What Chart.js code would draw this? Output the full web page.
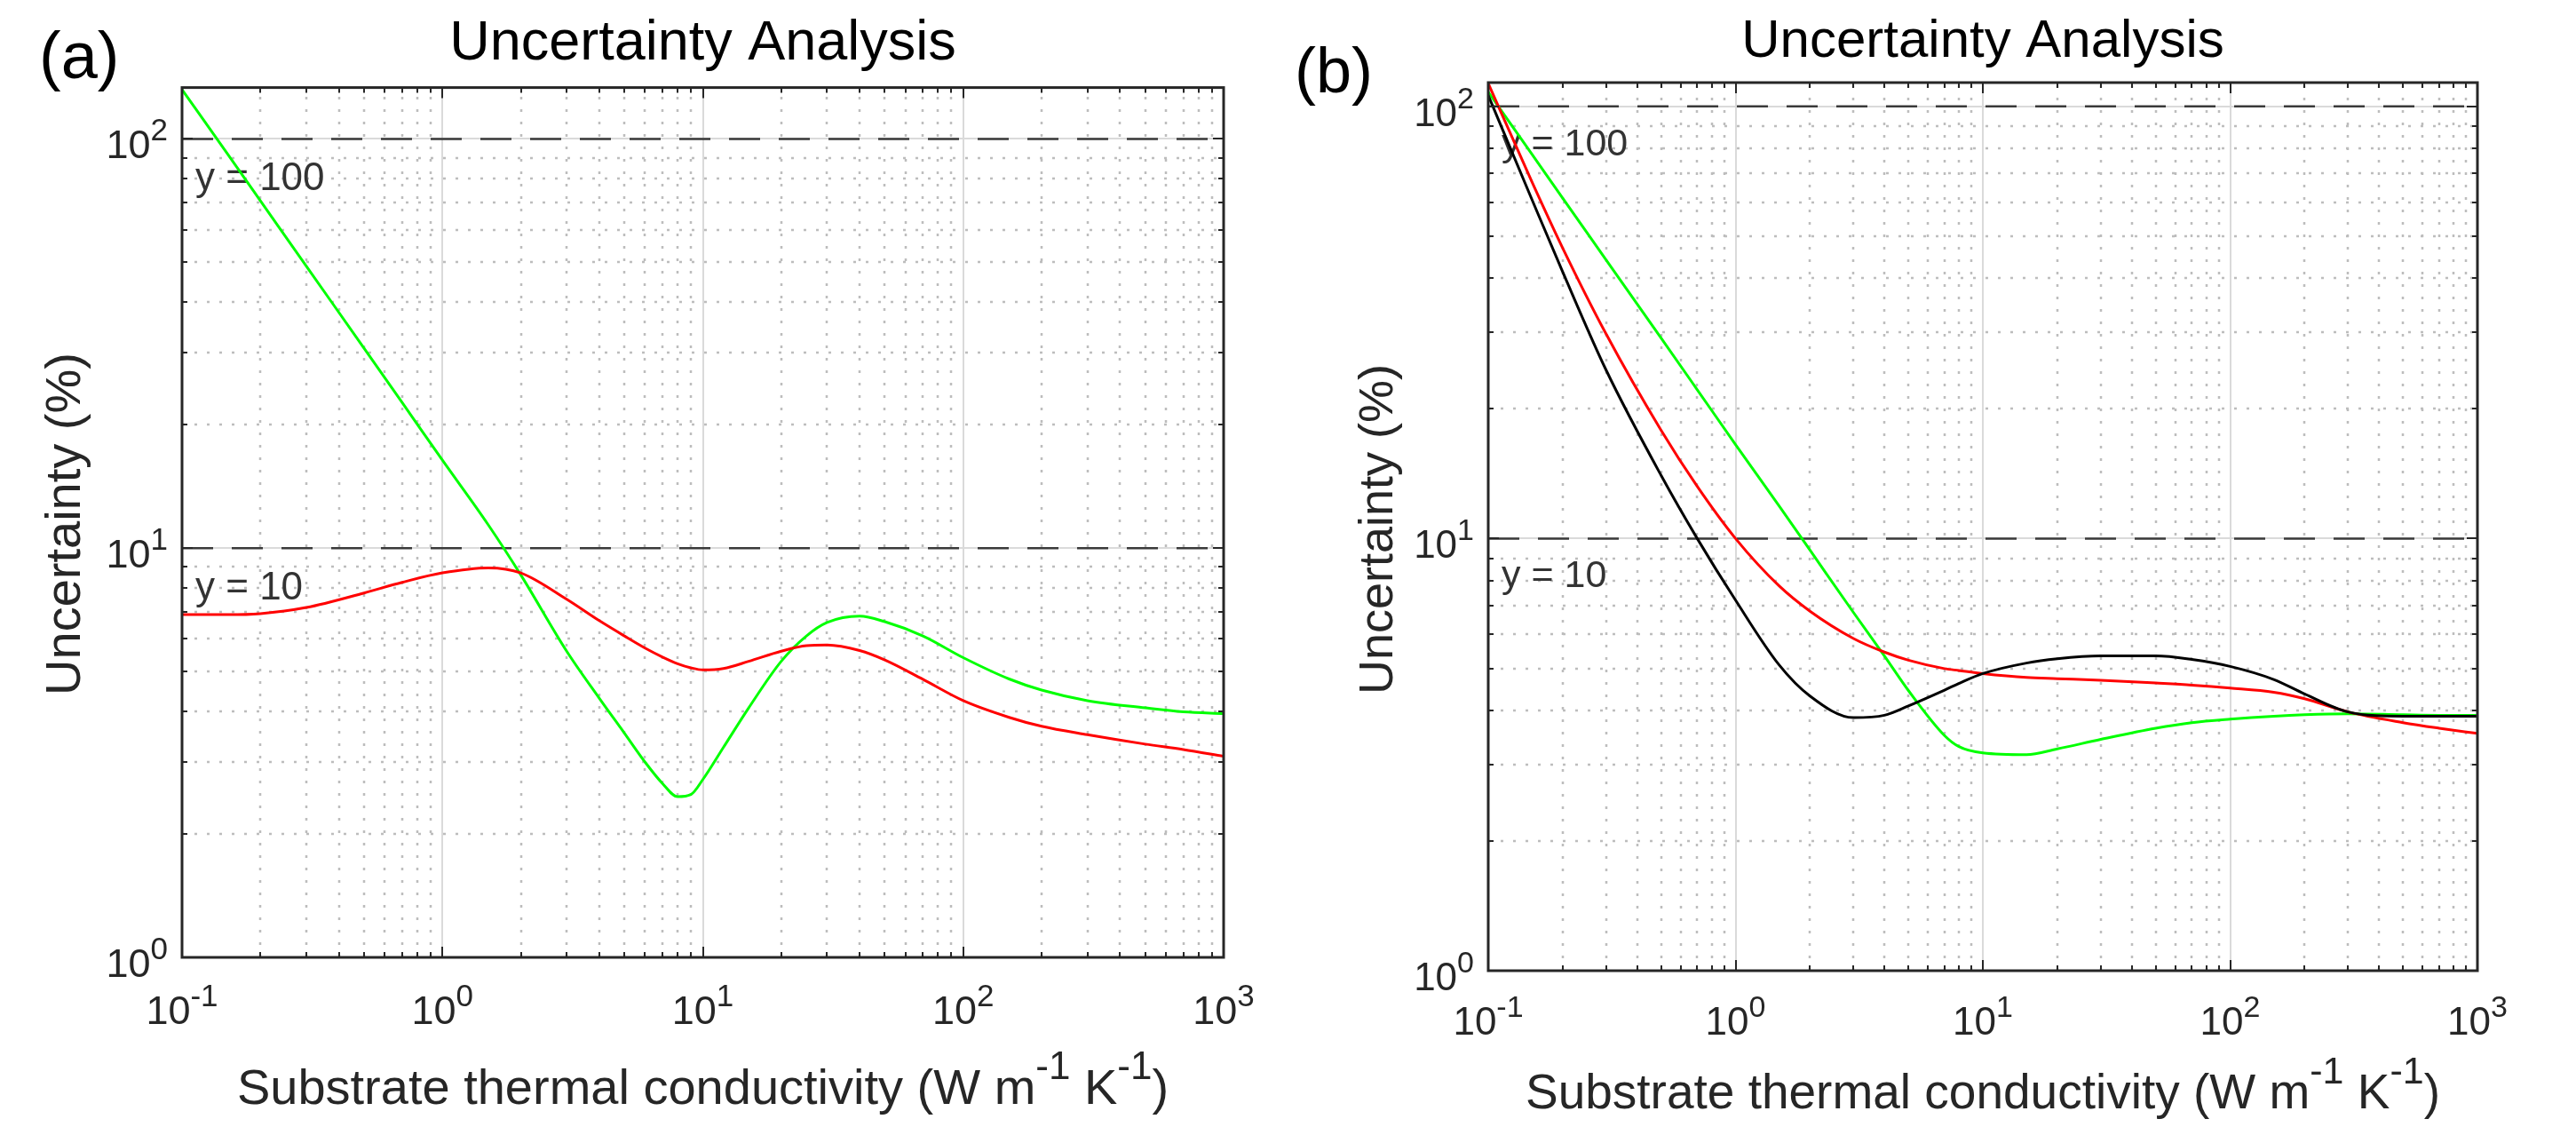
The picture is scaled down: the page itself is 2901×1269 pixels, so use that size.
<!DOCTYPE html>
<html lang="en">
<head>
<meta charset="UTF-8" />
<title>Uncertainty Analysis</title>
<script src="https://cdn.jsdelivr.net/npm/chart.js"></script>
<style>
  html, body { margin: 0; padding: 0; background: #fff; }
  #wrap { position: relative; width: 2901px; height: 1269px; }
  canvas { position: absolute; top: 0; }
</style>
</head>
<body>
<div id="wrap">
  <canvas id="chartA" width="1450" height="1269" style="left:0"></canvas>
  <canvas id="chartB" width="1451" height="1269" style="left:1450px"></canvas>
</div>
<script>
// substrate conductivity (W m-1 K-1) where the curves were read, panel (a)
const kA = [0.1, 0.15, 0.2, 0.3, 0.5, 0.7, 1, 1.5, 2, 3, 4, 5, 6, 7, 8, 9, 10, 12, 15, 20, 25, 30, 40, 50, 70, 100, 150, 200, 300, 500, 700, 1000];
const greenA = [132, 91.6, 70.6, 48.9, 30.8, 22.7, 16.4, 11.4, 8.6, 5.6, 4.3, 3.53, 3.0, 2.66, 2.47, 2.5, 2.72, 3.26, 4.07, 5.29, 6.1, 6.58, 6.82, 6.61, 6.1, 5.4, 4.79, 4.5, 4.24, 4.07, 3.98, 3.94];
const redA = [6.88, 6.88, 6.92, 7.16, 7.77, 8.25, 8.7, 8.95, 8.7, 7.5, 6.65, 6.1, 5.7, 5.42, 5.22, 5.1, 5.04, 5.08, 5.29, 5.6, 5.78, 5.8, 5.62, 5.33, 4.78, 4.24, 3.86, 3.67, 3.5, 3.32, 3.22, 3.1];

// panel (b)
const kB = [0.1, 0.15, 0.2, 0.3, 0.5, 0.7, 1, 1.5, 2, 3, 4, 5, 7, 8, 10, 15, 20, 30, 50, 70, 100, 150, 200, 300, 500, 700, 1000];
const blackB = [106, 61, 41.4, 24.5, 14, 10, 7.2, 5.1, 4.32, 3.85, 3.9, 4.1, 4.46, 4.62, 4.87, 5.15, 5.27, 5.35, 5.35, 5.25, 5.06, 4.72, 4.37, 3.97, 3.88, 3.88, 3.88];
const redB = [113, 67, 47, 29.7, 17.8, 13.2, 10.0, 7.77, 6.79, 5.87, 5.46, 5.23, 5.0, 4.95, 4.87, 4.77, 4.74, 4.7, 4.63, 4.58, 4.51, 4.41, 4.26, 3.97, 3.75, 3.64, 3.54];
const greenB = [108, 77.6, 61.3, 44.1, 29.1, 22.1, 16.5, 11.9, 9.4, 6.74, 5.35, 4.45, 3.5, 3.3, 3.19, 3.16, 3.26, 3.43, 3.64, 3.75, 3.82, 3.88, 3.91, 3.93, 3.91, 3.9, 3.9];

// horizontal reference lines and their labels
const refValues = [100, 10];
const refLabels = ['y = 100', 'y = 10'];

// axis tick labels (10^exp)
const xTickValues = [0.1, 1, 10, 100, 1000];
const xTickExps = ['-1', '0', '1', '2', '3'];
const yTickValues = [1, 10, 100];
const yTickExps = ['0', '1', '2'];

const titleText = 'Uncertainty Analysis';
const xTitleParts = [['Substrate thermal conductivity (W m', false], ['-1', true], [' K', false], ['-1', true], [')', false]];
const yTitleParts = [['Uncertainty (%)', false]];

const FONT = '"Liberation Sans", Arial, Helvetica, sans-serif';
const AXIS_COLOR = '#262626';

function drawSup(ctx, parts, x, y, align, base, sup, raise) {
  const widths = parts.map(([t, s]) => {
    ctx.font = (s ? sup : base) + 'px ' + FONT;
    return ctx.measureText(t).width;
  });
  const total = widths.reduce((a, b) => a + b, 0);
  let cx = align === 'center' ? x - total / 2 : align === 'right' ? x - total : x;
  ctx.textAlign = 'left';
  ctx.textBaseline = 'alphabetic';
  parts.forEach(([t, s], i) => {
    ctx.font = (s ? sup : base) + 'px ' + FONT;
    ctx.fillText(t, cx, s ? y - raise : y);
    cx += widths[i];
  });
}

function isDecade(v) {
  const l = Math.log10(v);
  return Math.abs(l - Math.round(l)) < 1e-6;
}
function isMinor(v) {
  const l = Math.log10(v);
  const sig = v / Math.pow(10, Math.floor(l + 1e-9));
  return !isDecade(v) && Math.abs(sig - Math.round(sig)) < 1e-6;
}

function decor(o) {
  return {
    id: 'decor',
    beforeDatasetsDraw(chart) {
      const { ctx, chartArea: a, scales: { x, y } } = chart;
      ctx.save();
      // minor dotted grid
      ctx.lineWidth = 2.5;
      ctx.strokeStyle = '#bdbdbd';
      ctx.setLineDash([3, 11]);
      x.ticks.forEach(t => {
        if (!isMinor(t.value)) return;
        const px = Math.round(x.getPixelForValue(t.value));
        ctx.beginPath(); ctx.moveTo(px, a.bottom); ctx.lineTo(px, a.top); ctx.stroke();
      });
      y.ticks.forEach(t => {
        if (!isMinor(t.value)) return;
        const py = Math.round(y.getPixelForValue(t.value));
        ctx.beginPath(); ctx.moveTo(a.left, py); ctx.lineTo(a.right, py); ctx.stroke();
      });
      // major solid grid
      ctx.setLineDash([]);
      ctx.lineWidth = 2;
      ctx.strokeStyle = '#dadada';
      x.ticks.forEach(t => {
        if (!isDecade(t.value)) return;
        const px = Math.round(x.getPixelForValue(t.value));
        ctx.beginPath(); ctx.moveTo(px, a.bottom); ctx.lineTo(px, a.top); ctx.stroke();
      });
      y.ticks.forEach(t => {
        if (!isDecade(t.value)) return;
        const py = Math.round(y.getPixelForValue(t.value));
        ctx.beginPath(); ctx.moveTo(a.left, py); ctx.lineTo(a.right, py); ctx.stroke();
      });
      // reference line labels
      ctx.fillStyle = '#333333';
      ctx.font = o.refSize + 'px ' + FONT;
      ctx.textAlign = 'left';
      ctx.textBaseline = 'alphabetic';
      refValues.forEach((v, i) => {
        ctx.fillText(refLabels[i], a.left + 15, y.getPixelForValue(v) + o.refDy);
      });
      ctx.restore();
    },
    afterDatasetsDraw(chart) {
      const { ctx, chartArea: a, scales: { x, y } } = chart;
      ctx.save();
      // inward ticks on all four sides
      ctx.strokeStyle = AXIS_COLOR;
      ctx.lineWidth = 2;
      x.ticks.forEach(t => {
        const major = isDecade(t.value);
        if (!major && !isMinor(t.value)) return;
        const len = major ? 12 : 6;
        const px = Math.round(x.getPixelForValue(t.value));
        ctx.beginPath();
        ctx.moveTo(px, a.bottom); ctx.lineTo(px, a.bottom - len);
        ctx.moveTo(px, a.top); ctx.lineTo(px, a.top + len);
        ctx.stroke();
      });
      y.ticks.forEach(t => {
        const major = isDecade(t.value);
        if (!major && !isMinor(t.value)) return;
        const len = major ? 12 : 6;
        const py = Math.round(y.getPixelForValue(t.value));
        ctx.beginPath();
        ctx.moveTo(a.left, py); ctx.lineTo(a.left + len, py);
        ctx.moveTo(a.right, py); ctx.lineTo(a.right - len, py);
        ctx.stroke();
      });
      // box
      ctx.lineWidth = 3;
      ctx.strokeRect(a.left, a.top, a.right - a.left, a.bottom - a.top);

      // tick labels
      ctx.fillStyle = AXIS_COLOR;
      xTickValues.forEach((v, i) => {
        drawSup(ctx, [['10', false], [xTickExps[i], true]], x.getPixelForValue(v), a.bottom + o.xTickDy, 'center', o.tickSize, o.supSize, 20);
      });
      yTickValues.forEach((v, i) => {
        drawSup(ctx, [['10', false], [yTickExps[i], true]], a.left - 16, y.getPixelForValue(v) + 22, 'right', o.tickSize, o.supSize, 20);
      });
      // axis titles
      drawSup(ctx, xTitleParts, (a.left + a.right) / 2, o.xTitleY, 'center', o.xTitleSize, Math.round(o.xTitleSize * 0.78), 28);
      ctx.save();
      ctx.translate(o.yTitleX, o.yTitleY);
      ctx.rotate(-Math.PI / 2);
      drawSup(ctx, yTitleParts, 0, 0, 'center', o.yTitleSize, o.yTitleSize, 0);
      ctx.restore();
      // panel letter
      ctx.fillStyle = '#000';
      ctx.font = o.letterSize + 'px ' + FONT;
      ctx.textAlign = 'left';
      ctx.fillText(o.letter, o.letterX, o.letterY);
      ctx.restore();
    }
  };
}

function lineSet(k, v, color) {
  return {
    data: k.map((kk, i) => ({ x: kk, y: v[i] })),
    borderColor: color, borderWidth: 3, pointRadius: 0, fill: false,
    cubicInterpolationMode: 'monotone'
  };
}
function refSet(v) {
  return {
    data: [{ x: 0.1, y: v }, { x: 1000, y: v }],
    borderColor: '#3a3a3a', borderWidth: 2.5, borderDash: [35, 21],
    pointRadius: 0, fill: false
  };
}

function makeChart(id, datasets, o) {
  return new Chart(document.getElementById(id), {
    type: 'line',
    data: { datasets: datasets },
    options: {
      responsive: false,
      animation: false,
      devicePixelRatio: 1,
      layout: { padding: o.pad },
      plugins: {
        legend: { display: false },
        tooltip: { enabled: false },
        title: {
          display: true, text: titleText, color: '#000',
          font: { family: FONT, size: o.titleSize, weight: 'normal', lineHeight: 1.2 },
          padding: o.titlePad
        }
      },
      scales: {
        x: {
          type: 'logarithmic', min: 0.1, max: 1000,
          grid: { display: false, drawTicks: false },
          border: { display: false },
          ticks: { display: false, autoSkip: false }
        },
        y: {
          type: 'logarithmic', min: 1, max: o.yMax,
          grid: { display: false, drawTicks: false },
          border: { display: false },
          ticks: { display: false, autoSkip: false }
        }
      }
    },
    plugins: [decor(o)]
  });
}

makeChart('chartA', [
  lineSet(kA, redA, '#ff0000'),
  lineSet(kA, greenA, '#00ff00'),
  refSet(refValues[0]),
  refSet(refValues[1])
], {
  pad: { left: 205, right: 72, top: 0, bottom: 191 },
  titleSize: 63, titlePad: { top: 12, bottom: 11 },
  yMax: 133.5,
  tickSize: 45, supSize: 35, xTickDy: 75,
  refSize: 44, refDy: 58,
  xTitleSize: 56, xTitleY: 1243,
  yTitleSize: 56, yTitleX: 90, yTitleY: 590,
  letter: '(a)', letterSize: 74, letterX: 44, letterY: 88
});

makeChart('chartB', [
  lineSet(kB, blackB, '#000000'),
  lineSet(kB, redB, '#ff0000'),
  lineSet(kB, greenB, '#00ff00'),
  refSet(refValues[0]),
  refSet(refValues[1])
], {
  pad: { left: 226, right: 111, top: 0, bottom: 176 },
  titleSize: 60, titlePad: { top: 11, bottom: 10 },
  yMax: 113.5,
  tickSize: 44, supSize: 34, xTickDy: 72,
  refSize: 43, refDy: 55,
  xTitleSize: 55, xTitleY: 1248,
  yTitleSize: 54, yTitleX: 118, yTitleY: 596,
  letter: '(b)', letterSize: 72, letterX: 8, letterY: 104
});
</script>
</body>
</html>
